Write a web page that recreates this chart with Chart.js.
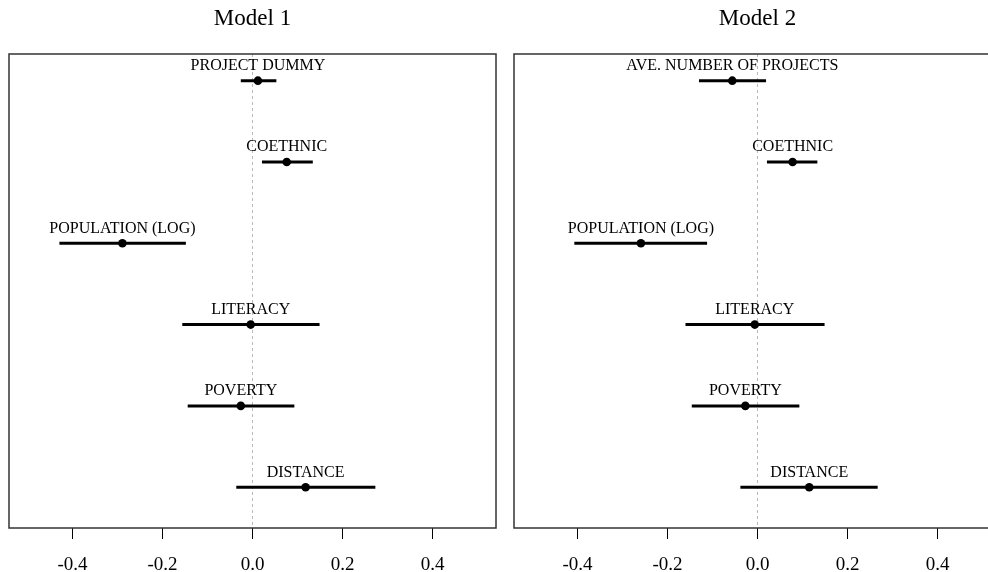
<!DOCTYPE html>
<html>
<head>
<meta charset="utf-8">
<script src="https://cdn.jsdelivr.net/npm/chart.js@4.4.1/dist/chart.umd.min.js"></script>
<style>
  html, body { margin:0; padding:0; background:#fff; }
  body { width:988px; height:572px; overflow:hidden; position:relative; }
  canvas { position:absolute; top:0; }
  #c1 { left:0; }
  #c2 { left:505px; }
</style>
</head>
<body>
<canvas id="c1" width="505" height="572"></canvas>
<canvas id="c2" width="505" height="572"></canvas>
<script>
// ---- Data ----
const titles = ['Model 1', 'Model 2'];
const categories1 = ['PROJECT DUMMY', 'COETHNIC', 'POPULATION (LOG)', 'LITERACY', 'POVERTY', 'DISTANCE'];
const estimates1 = [0.012, 0.076, -0.289, -0.004, -0.026, 0.118];
const lower1 = [-0.026, 0.021, -0.429, -0.156, -0.144, -0.036];
const upper1 = [0.053, 0.134, -0.148, 0.149, 0.093, 0.273];

const categories2 = ['AVE. NUMBER OF PROJECTS', 'COETHNIC', 'POPULATION (LOG)', 'LITERACY', 'POVERTY', 'DISTANCE'];
const estimates2 = [-0.056, 0.078, -0.259, -0.006, -0.027, 0.115];
const lower2 = [-0.130, 0.021, -0.407, -0.160, -0.146, -0.038];
const upper2 = [0.019, 0.133, -0.112, 0.149, 0.093, 0.267];

const xTicks = [-0.4, -0.2, 0.0, 0.2, 0.4];

// ---- Styling ----
const FONT = 'Liberation Serif';
const X_MIN = -0.541, X_MAX = 0.541;
const Y_MIN = 0.672, Y_MAX = 6.502;

function makeChart(id, title, cats, est, lo, hi) {
  const pointDs = {
    data: est.map((v, i) => ({ x: v, y: i + 1 })),
    showLine: false,
    pointRadius: 4.3,
    pointBackgroundColor: '#000',
    pointBorderColor: '#000',
    pointBorderWidth: 0
  };
  const ciDs = cats.map((c, i) => ({
    data: [{ x: lo[i], y: i + 1 }, { x: hi[i], y: i + 1 }],
    showLine: true,
    borderColor: '#000',
    borderWidth: 3,
    borderCapStyle: 'butt',
    pointRadius: 0
  }));
  const zeroDs = {
    data: [{ x: 0, y: Y_MIN }, { x: 0, y: Y_MAX }],
    showLine: true,
    borderColor: '#b8b8b8',
    borderWidth: 1,
    borderDash: [3, 3],
    pointRadius: 0
  };

  const labelPlugin = {
    id: 'labels_' + id,
    afterDatasetsDraw(chart) {
      const ctx = chart.ctx;
      const xs = chart.scales.x, ys = chart.scales.y;
      ctx.save();
      ctx.font = '16px "' + FONT + '"';
      ctx.fillStyle = '#000';
      ctx.textAlign = 'center';
      ctx.textBaseline = 'alphabetic';
      cats.forEach((c, i) => {
        const px = xs.getPixelForValue(est[i]);
        const py = ys.getPixelForValue(i + 1);
        ctx.fillText(c, px, py - 10.5);
      });
      ctx.restore();
    }
  };
  const framePlugin = {
    id: 'frame_' + id,
    afterDraw(chart) {
      const a = chart.chartArea;
      const ctx = chart.ctx;
      ctx.save();
      ctx.strokeStyle = '#333';
      ctx.lineWidth = 1.5;
      ctx.strokeRect(a.left, a.top, a.right - a.left, a.bottom - a.top);
      ctx.restore();
    }
  };

  return new Chart(document.getElementById(id), {
    type: 'scatter',
    data: { datasets: [pointDs, ...ciDs, zeroDs] },
    options: {
      responsive: false,
      devicePixelRatio: 1,
      animation: false,
      events: [],
      layout: { padding: { left: 9, right: 9, top: 0, bottom: 0 } },
      plugins: {
        legend: { display: false },
        tooltip: { enabled: false },
        title: {
          display: true,
          text: title,
          color: '#000',
          font: { family: FONT, size: 23, weight: 'normal', lineHeight: 1.2 },
          padding: { top: 5, bottom: 21.4 }
        }
      },
      scales: {
        x: {
          type: 'linear',
          min: X_MIN,
          max: X_MAX,
          afterBuildTicks: s => { s.ticks = xTicks.map(v => ({ value: v })); },
          afterFit: s => { s.height = 44; },
          ticks: {
            callback: v => Number(v).toFixed(1),
            font: { family: FONT, size: 19 },
            color: '#000',
            padding: 15,
            maxRotation: 0,
            autoSkip: false
          },
          grid: {
            drawOnChartArea: false,
            tickLength: 11,
            tickColor: '#000',
            tickWidth: 1
          },
          border: { display: false }
        },
        y: {
          type: 'linear',
          reverse: true,
          min: Y_MIN,
          max: Y_MAX,
          display: false
        }
      }
    },
    plugins: [labelPlugin, framePlugin]
  });
}

makeChart('c1', titles[0], categories1, estimates1, lower1, upper1);
makeChart('c2', titles[1], categories2, estimates2, lower2, upper2);
</script>
</body>
</html>
